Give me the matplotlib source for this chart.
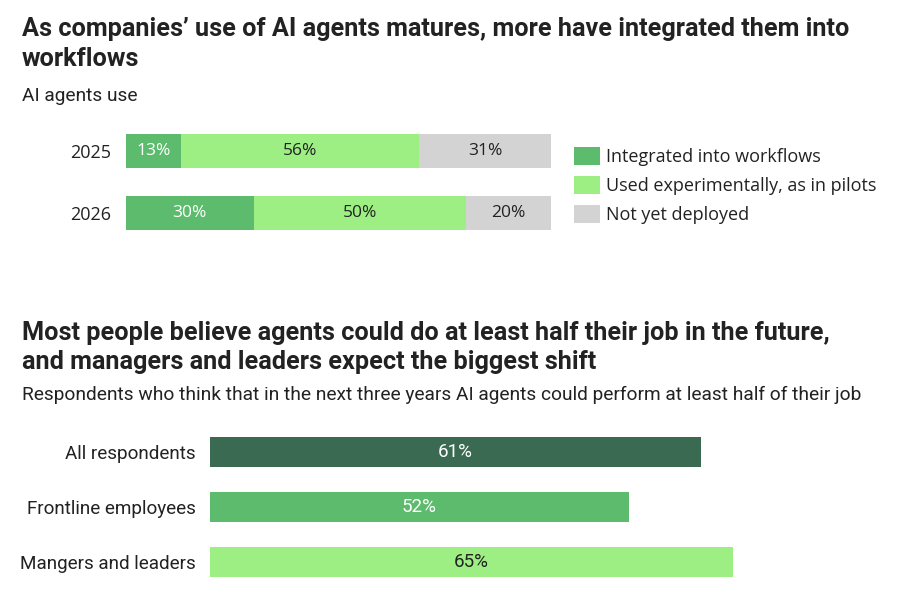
import matplotlib.pyplot as plt
import numpy as np

# data
years = ["2025", "2026"]
integrated = [13, 30]
experimental = [56, 50]
not_deployed = [31, 20]
series_names = ["Integrated into workflows", "Used experimentally, as in pilots", "Not yet deployed"]

groups = ["All respondents", "Frontline employees", "Mangers and leaders"]
half_job = [61, 52, 65]

DARK = "#3a6a51"
MID = "#5cbb6c"
LIGHT = "#9def84"
GRAY = "#d3d3d3"
TXT = "#222222"

HEAD = ["Roboto", "DejaVu Sans"]
BODY = ["Open Sans", "DejaVu Sans"]

W, H = 900, 603
fig = plt.figure(figsize=(W / 100, H / 100), dpi=100)
renderer = fig.canvas.get_renderer()


def box(x0, y0, x1, y1):
    # pixel box (top-left origin) -> figure fraction rect
    return [x0 / W, 1 - y1 / H, (x1 - x0) / W, (y1 - y0) / H]


def px(x, y):
    return x / W, 1 - y / H


def fit(t, width):
    # scale font so the text is about `width` pixels wide
    w = t.get_window_extent(renderer).width
    t.set_fontsize(t.get_fontsize() * width / w)
    return t


# titles
t = fig.text(*px(22, 36), "As companies\u2019 use of AI agents matures, more have integrated them into",
             fontsize=17, fontweight="bold", family=HEAD, color=TXT)
fit(t, 828)
title_size = t.get_fontsize()
fig.text(*px(22, 66), "workflows", fontsize=title_size, fontweight="bold", family=HEAD, color=TXT)

t = fig.text(*px(22, 340), "Most people believe agents could do at least half their job in the future,",
             fontsize=title_size, fontweight="bold", family=HEAD, color=TXT)
fig.text(*px(22, 369), "and managers and leaders expect the biggest shift",
         fontsize=title_size, fontweight="bold", family=HEAD, color=TXT)

t = fig.text(*px(22, 400), "Respondents who think that in the next three years AI agents could perform at least half of their job",
             fontsize=12, family=HEAD, color=TXT)
fit(t, 838)
sub_size = t.get_fontsize()
fig.text(*px(22, 101), "AI agents use", fontsize=sub_size, family=HEAD, color=TXT)

# top stacked chart
ax1 = fig.add_axes(box(126, 120, 551, 244))
y = np.arange(len(years))
left = np.zeros(len(years))
colors = [MID, LIGHT, GRAY]
txtcol = ["white", TXT, TXT]
for vals, c, tc, name in zip([integrated, experimental, not_deployed], colors, txtcol, series_names):
    ax1.barh(y, vals, left=left, height=0.55, color=c, label=name)
    for yi, l, v in zip(y, left, vals):
        ax1.text(l + v / 2, yi, f"{v}%", ha="center", va="center", color=tc,
                 fontsize=12.5, family=BODY)
    left += vals
ax1.set_xlim(0, 100)
ax1.set_ylim(1.5, -0.5)
ax1.set_yticks(y)
ax1.set_yticklabels(years, fontsize=13, family=BODY, color=TXT)
ax1.tick_params(left=False, bottom=False, labelbottom=False, pad=7)
for s in ax1.spines.values():
    s.set_visible(False)

leg = ax1.legend(loc="upper left", bbox_to_anchor=((574 - 126) / 425, 1.0 - (147 - 120) / 124),
                 frameon=False, prop={"family": BODY, "size": 13},
                 handlelength=1.45, handleheight=1.15, handletextpad=0.3, labelspacing=0.56,
                 borderaxespad=0, borderpad=0)
for t in leg.get_texts():
    t.set_color(TXT)

# bottom chart
ax2 = fig.add_axes(box(210, 424.5, 210 + 8.05 * 70, 589.5))
y2 = np.arange(len(groups))
ax2.barh(y2, half_job, height=0.55, color=[DARK, MID, LIGHT])
for yi, v, tc in zip(y2, half_job, ["white", "white", TXT]):
    ax2.text(v / 2, yi, f"{v}%", ha="center", va="center", color=tc, fontsize=13.5, family=HEAD)
ax2.set_xlim(0, 70)
ax2.set_ylim(2.5, -0.5)
ax2.set_yticks(y2)
ax2.set_yticklabels(groups, fontsize=13, family=HEAD, color=TXT)
ax2.tick_params(left=False, bottom=False, labelbottom=False, pad=6.5)
for s in ax2.spines.values():
    s.set_visible(False)
lab = ax2.get_yticklabels()[2]
fit(lab, 176)
for l in ax2.get_yticklabels():
    l.set_fontsize(lab.get_fontsize())

fig.savefig("out.png", dpi=100)
